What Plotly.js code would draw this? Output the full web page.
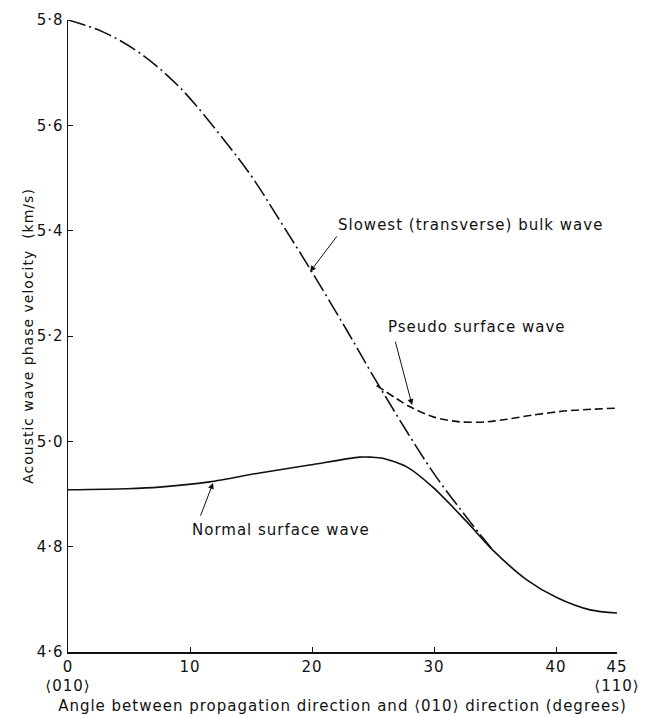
<!DOCTYPE html>
<html>
<head>
<meta charset="utf-8">
<script src="https://cdn.plot.ly/plotly-3.0.1.min.js"></script>
<style>
html,body{margin:0;padding:0;background:#fff;}
#chart{width:646px;height:718px;}
#chart svg text{letter-spacing:1px;}
</style>
</head>
<body>
<div id="chart"></div>
<script>
// Slowest (transverse) bulk wave
const bulkAngle = [0, 2.9, 5.9, 9.2, 13.0, 15.2, 17.1, 19.8, 22.9, 25.4, 29.9, 32.7, 34.8];
const bulkVel   = [5.800, 5.777, 5.737, 5.671, 5.566, 5.498, 5.429, 5.329, 5.209, 5.109, 4.942, 4.855, 4.794];
// Pseudo surface wave
const pseudoAngle = [25.3, 28.0, 30.0, 32.1, 34.3, 36.0, 38.1, 40.9, 43.0, 45.0];
const pseudoVel   = [5.106, 5.066, 5.046, 5.037, 5.037, 5.042, 5.050, 5.058, 5.061, 5.063];
// Normal surface wave
const normalAngle = [0, 4.8, 7.5, 11.6, 15.7, 19.8, 23.9, 24.8, 25.8, 27.8, 29.9, 32.7, 34.8, 37.6, 40.1, 42.8, 45.0];
const normalVel   = [4.908, 4.910, 4.913, 4.923, 4.940, 4.955, 4.970, 4.970, 4.968, 4.951, 4.913, 4.847, 4.794, 4.737, 4.703, 4.680, 4.674];
// Tick labels
const xTickVals = [0, 10, 20, 30, 40, 45];
const xTickText = ["0<br>⟨010⟩", "10", "20", "30", "40", "45<br>⟨110⟩"];
const yTickVals = [4.6, 4.8, 5.0, 5.2, 5.4, 5.6, 5.8];
const yTickText = ["4·6", "4·8", "5·0", "5·2", "5·4", "5·6", "5·8"];
// Labels
const labels = ["Slowest (transverse) bulk wave", "Pseudo surface wave", "Normal surface wave"];

const font = {family: "DejaVu Sans", size: 15, color: "#111"};
const yTitleFont = {family: "DejaVu Sans", size: 14, color: "#111"};
const lineStyle = {color: "#111", width: 1.6};

const traces = [
  {x: bulkAngle, y: bulkVel, mode: "lines", line: Object.assign({dash: "18px,4px,2px,4px", shape: "spline", smoothing: 1}, lineStyle), hoverinfo: "skip"},
  {x: pseudoAngle, y: pseudoVel, mode: "lines", line: Object.assign({dash: "8px,4px", shape: "spline", smoothing: 0.8}, lineStyle), hoverinfo: "skip"},
  {x: normalAngle, y: normalVel, mode: "lines", line: Object.assign({shape: "spline", smoothing: 0.8}, lineStyle), hoverinfo: "skip"}
];

const arrow = (x, y, ax, ay) => ({x: x, y: y, ax: ax, ay: ay, xref: "x", yref: "y", axref: "x", ayref: "y",
  text: "", showarrow: true, arrowhead: 2, arrowsize: 1.2, arrowwidth: 1, arrowcolor: "#111", standoff: 0});
const label = (t, x, y) => ({x: x, y: y, xref: "x", yref: "y", text: t, showarrow: false, xanchor: "left", yanchor: "middle", align: "left", font: font});

const layout = {
  width: 646, height: 718,
  margin: {l: 68, r: 29, t: 20, b: 66},
  paper_bgcolor: "#fff", plot_bgcolor: "#fff",
  showlegend: false,
  font: font,
  xaxis: {
    range: [0, 45], tickvals: xTickVals, ticktext: xTickText,
    ticks: "inside", ticklen: 5, tickcolor: "#111", tickwidth: 1,
    showline: true, linecolor: "#111", linewidth: 1.5,
    showgrid: false, zeroline: false, tickfont: font,
    title: {text: "Angle between propagation direction and ⟨010⟩ direction (degrees)", font: font, standoff: 6}
  },
  yaxis: {
    range: [4.6, 5.8], tickvals: yTickVals, ticktext: yTickText,
    ticks: "inside", ticklen: 5, tickcolor: "#111", tickwidth: 1,
    showline: true, linecolor: "#111", linewidth: 1.5,
    showgrid: false, zeroline: false, tickfont: font,
    title: {text: "Acoustic wave phase velocity  (km/s)", font: yTitleFont, standoff: 2}
  },
  annotations: [
    label(labels[0], 22.0, 5.41),
    arrow(19.84, 5.322, 22.13, 5.392),
    label(labels[1], 26.07, 5.217),
    arrow(28.2, 5.069, 26.8, 5.192),
    label(labels[2], 10.0, 4.832),
    arrow(11.89, 4.921, 10.82, 4.856)
  ]
};

Plotly.newPlot("chart", traces, layout, {staticPlot: true, displayModeBar: false});
</script>
</body>
</html>
